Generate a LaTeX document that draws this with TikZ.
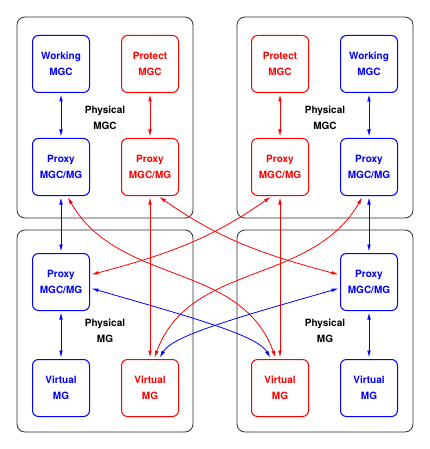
\documentclass[tikz,border=0pt]{standalone}
\usepackage{fontspec}
\newfontfamily\figfont{TeX Gyre Heros}
\usetikzlibrary{arrows.meta,positioning}
\definecolor{fgray}{RGB}{45,45,55}

\begin{document}
\begin{tikzpicture}[%
    x=1pt, y=1pt,                       % one unit is one pixel of the figure
    >={Latex[length=7pt,width=3.6pt]},  % slim filled arrow heads
    node distance=103pt and 89pt,       % rows and columns inside a machine
    on grid,
    ]
% -------------------------------------------------
% Box and line styles
\tikzset{
  base/.style={draw, align=center, font={\figfont\bfseries\fontsize{10}{16}\selectfont}},
  physbox/.style={base, draw=fgray, rounded corners=8pt, line width=0.8pt,
                  minimum width=176pt, minimum height=201pt},
  work/.style={base, blue, rounded corners=6pt, line width=1pt, minimum size=57pt},
  prot/.style={base, red, rounded corners=6pt, line width=1pt, minimum size=57pt},
  % Connector line styles for the two planes
  wlink/.style={<->, draw=blue, line width=0.8pt, shorten >=1.5pt, shorten <=1.5pt},
  plink/.style={<->, draw=red, line width=0.8pt, shorten >=1.5pt, shorten <=1.5pt}
}
\useasboundingbox (0,0) rectangle (430,-449);
% -------------------------------------------------
% The four physical machines
\node [physbox] (m1) at (105,-117.5) {Physical\\MGC};
\node [physbox] (m2) at (325,-117.5) {Physical\\MGC};
\node [physbox, minimum height=202pt] (g1) at (105,-331) {Physical\\MG};
\node [physbox, minimum height=202pt] (g2) at (325,-331) {Physical\\MG};
% -------------------------------------------------
% Left column of boxes
\node [work] (w1) at (61,-64) {Working\\MGC};
\node [prot, right=of w1] (p1) {Protect\\MGC};
\node [work, below=of w1] (xb1) {Proxy\\MGC/MG};
\node [prot, below=of p1] (xr1) {Proxy\\MGC/MG};
\node [work, below=115pt of xb1] (yb1) {Proxy\\MGC/MG};
\node [work, below=106pt of yb1] (vb1) {Virtual\\MG};
\node [prot, right=of vb1] (vr1) {Virtual\\MG};
% Right column of boxes
\node [prot] (p2) at (280,-64) {Protect\\MGC};
\node [work, right=of p2] (w2) {Working\\MGC};
\node [prot, below=of p2] (xr2) {Proxy\\MGC/MG};
\node [work, below=of w2] (xb2) {Proxy\\MGC/MG};
\node [work, below=115pt of xb2] (yb2) {Proxy\\MGC/MG};
\node [work, below=106pt of yb2] (vb2) {Virtual\\MG};
\node [prot, left=of vb2] (vr2) {Virtual\\MG};
% -------------------------------------------------
% Straight links
\draw [wlink] (w1) -- (xb1);
\draw [plink] (p1) -- (xr1);
\draw [plink] (p2) -- (xr2);
\draw [wlink] (w2) -- (xb2);
\draw [wlink] (xb1) -- (yb1);
\draw [wlink] (xb2) -- (yb2);
\draw [wlink] (yb1) -- (vb1);
\draw [wlink] (yb2) -- (vb2);
\draw [plink] (xr1) -- (vr1);
\draw [plink] (xr2) -- (vr2);
% Crossing links
\draw [plink] ([xshift=8pt]xr1.south) to [out=-35, in=165] ([yshift=7pt]yb2.west);
\draw [plink] ([xshift=-8pt]xr2.south) to [out=-145, in=15] ([yshift=7pt]yb1.east);
\draw [plink] ([xshift=6pt]xb1.south) to [out=-60, in=110] ([xshift=-4pt]vr2.north);
\draw [plink] ([xshift=-6pt]xb2.south) to [out=-120, in=70] ([xshift=4pt]vr1.north);
\draw [wlink] ([yshift=-6pt]yb1.east)
  to [out=-16, in=120, out looseness=1.5, in looseness=0.35] ([xshift=-9pt]vr2.north);
\draw [wlink] ([yshift=-6pt]yb2.west)
  to [out=-164, in=60, out looseness=1.5, in looseness=0.35] ([xshift=9pt]vr1.north);
% -------------------------------------------------
\end{tikzpicture}
\end{document}
